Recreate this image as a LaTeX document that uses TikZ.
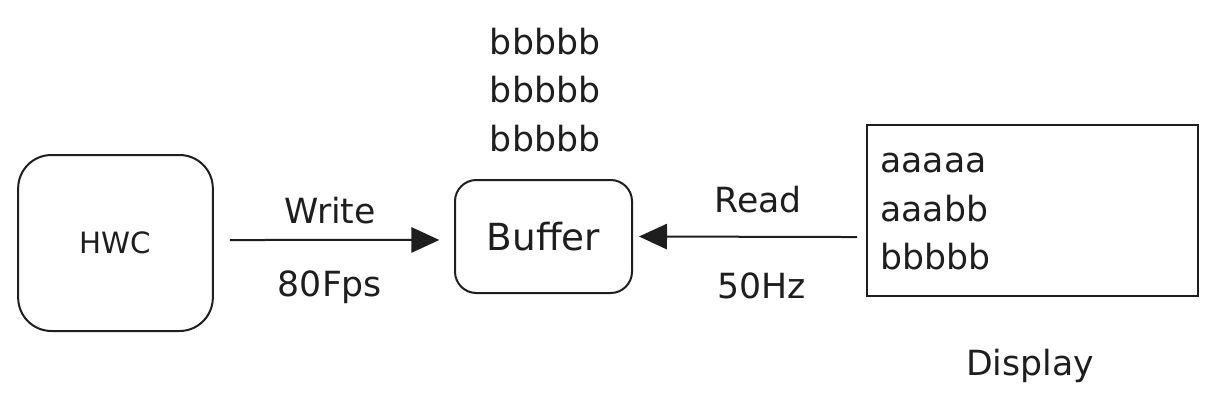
\documentclass[tikz,border=0pt]{standalone}
\usepackage{fontspec}
\setmainfont{DejaVu Sans}
\usetikzlibrary{arrows.meta}
\definecolor{ink}{HTML}{1E1E1E}
\begin{document}
\begin{tikzpicture}[x=0.75pt,y=-0.75pt,
  box/.style={draw=ink,line width=1.5pt,inner sep=0pt},
  lbl/.style={text=ink,font=\fontsize{26}{31}\selectfont,anchor=base,inner sep=0pt},
  lline/.style={lbl,anchor=base west},
  conn/.style={draw=ink,line width=1.5pt,-{Triangle[length=21pt,width=19pt]}}]
\useasboundingbox (0,0) rectangle (1217,411);
% boxes
\node[box,rounded corners=25pt,minimum width=146pt,minimum height=132pt,
      text=ink,font=\fontsize{22}{26}\selectfont] (hwc) at (115.5,243) {HWC};
\node[box,rounded corners=16pt,minimum width=132.75pt,minimum height=84.75pt,
      text=ink,font=\fontsize{28}{33}\selectfont] (buf) at (543.5,236.5) {Buffer};
\node[box,minimum width=248.25pt,minimum height=128.25pt] (disp) at (1032.5,210.5) {};
% connectors
\draw[conn] ([xshift=12pt,yshift=2.25pt]hwc.east) -- ([xshift=-11pt,yshift=-2.6pt]buf.west);
\draw[conn] ([xshift=-6.75pt,yshift=-19.9pt]disp.west) -- ([xshift=4.5pt]buf.east);
% labels
\node[lbl] (wr) at (330,223) {Write};
\node[lbl] (fps) at (330,296) {80Fps};
\node[lbl] (rd) at (758,212) {Read};
\node[lbl] (hz) at (762,298) {50Hz};
\node[lbl] (b1) at (545,54) {bbbbb};
\node[lbl] (b2) at (545,102) {bbbbb};
\node[lbl] (b3) at (545,151) {bbbbb};
\node[lline] (d1) at (880,172) {aaaaa};
\node[lline] (d2) at (880,221) {aaabb};
\node[lline] (d3) at (880,269) {bbbbb};
\node[lbl] (dname) at (1030,375) {Display};
\end{tikzpicture}
\end{document}
